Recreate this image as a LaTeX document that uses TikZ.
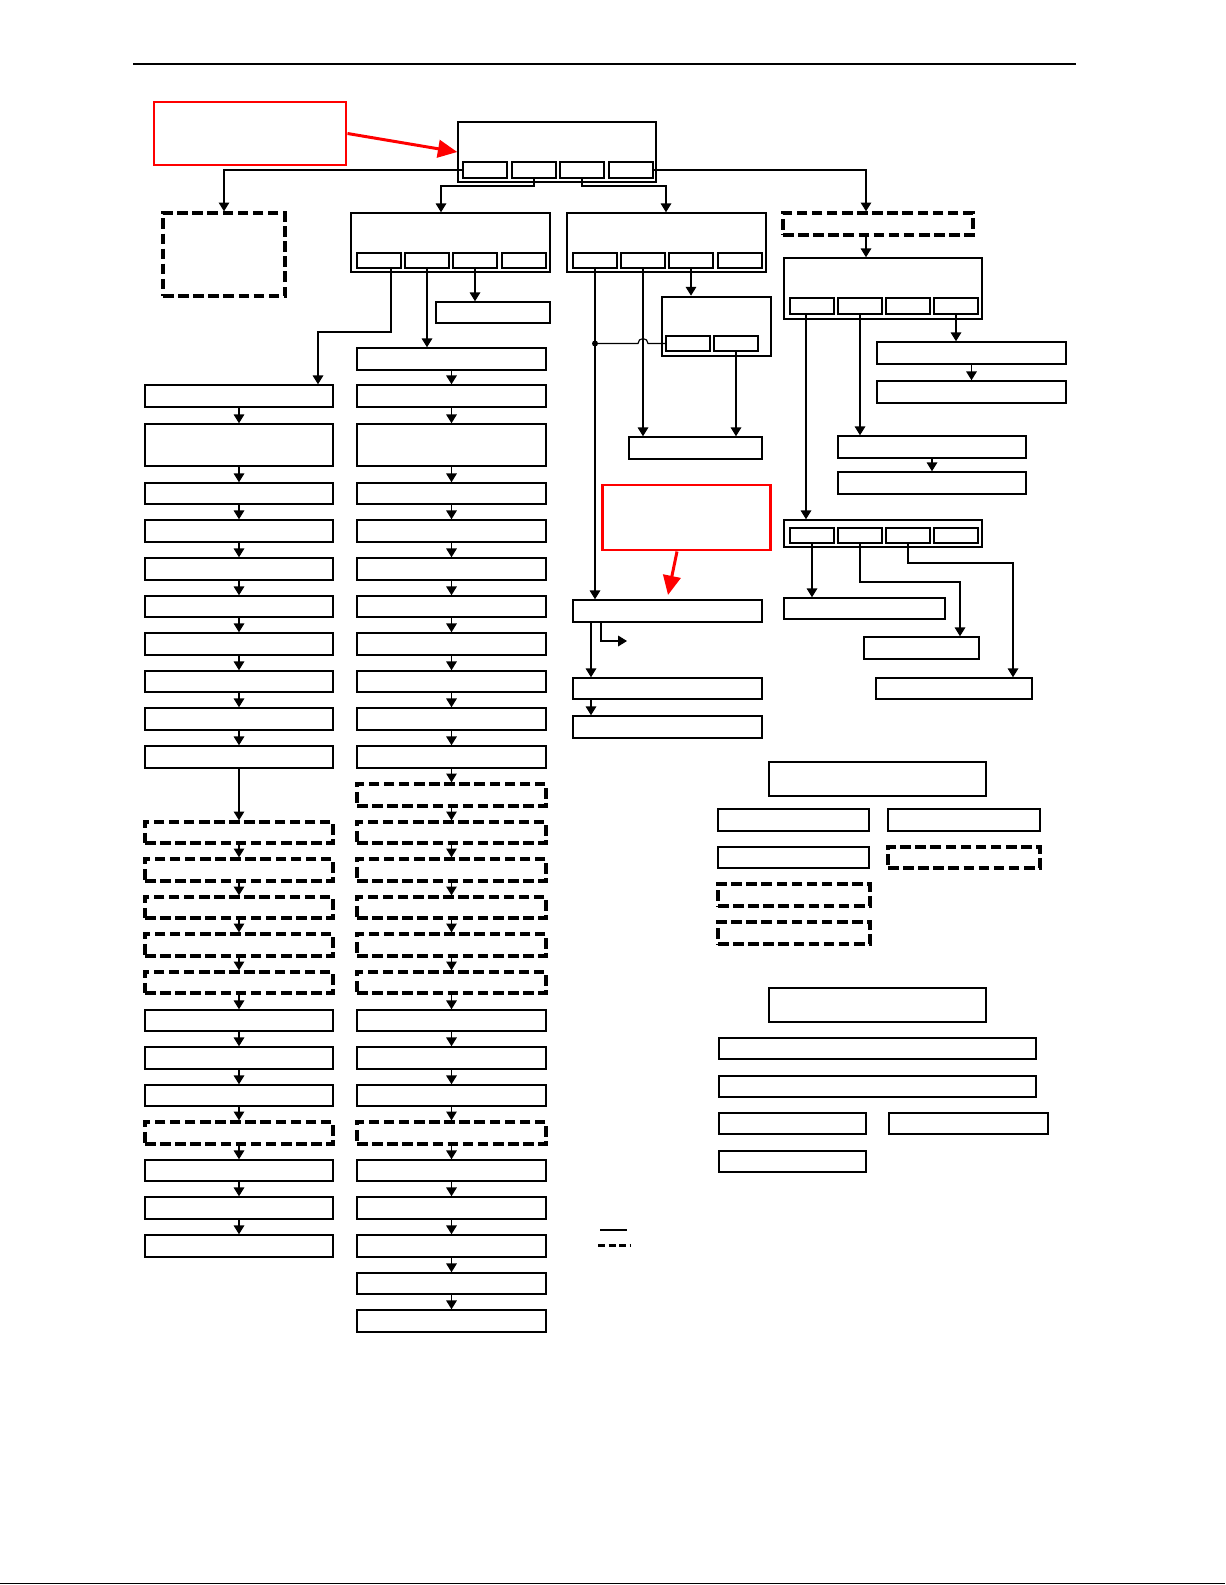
\documentclass[tikz,border=0pt]{standalone}
\usetikzlibrary{arrows.meta,fit,positioning}

\tikzset{
    box/.style={draw, line width=0.85pt, inner sep=0pt},
    dbox/.style={draw, line width=1.9pt, dash pattern=on 6pt off 2.6pt, inner sep=0pt},
    thickbox/.style={draw, line width=1.5pt, inner sep=0pt},
    sub/.style={draw, line width=0.65pt, inner sep=0pt},
    redbox/.style={draw=red, line width=1.7pt, inner sep=0pt},
    redarrow/.style={red, line width=1.7pt, -{Triangle[length=11pt,width=10pt]}}
}

\begin{document}
\begin{tikzpicture}[x=0.02cm,y=-0.02cm,line width=0.65pt,>={Triangle[length=5pt,width=6pt]}]
    \useasboundingbox (0,0) rectangle (1225,1585);
    \draw[line width=1.7pt] (133,64) -- (1076,64);
    \draw[line width=0.6pt] (0,1583.5) -- (1225,1583.5);

    \node[redbox, fit={(154,102) (346,165)}] (noteA) {};
    \node[redbox, fit={(602,485) (770,550)}] (noteB) {};

    \node[box, fit={(458,122) (656,182)}] (top) {};
    \foreach \k/\xa in {1/463,2/512,3/560,4/609}
        \node[sub, fit={(\xa,162) (\xa+44,178)}] (t\k) {};
    \node[dbox, fit={(163,213) (285,296)}] (dl) {};
    \node[box, fit={(351,213) (550,272)}] (a) {};
    \foreach \k/\xa in {1/357,2/405,3/453,4/502}
        \node[sub, fit={(\xa,253) (\xa+44,268)}] (a\k) {};
    \node[box, fit={(567,213) (766,272)}] (b) {};
    \foreach \k/\xa in {1/573,2/621,3/669,4/718}
        \node[sub, fit={(\xa,253) (\xa+44,268)}] (b\k) {};
    \node[dbox, fit={(783,213) (973,235)}] (e) {};
    \node[box, fit={(784,258) (982,319)}] (f) {};
    \foreach \k/\xa in {1/790,2/838,3/886,4/934}
        \node[sub, fit={(\xa,298) (\xa+44,314)}] (f\k) {};

    \node[box, fit={(436,302) (550,323)}] (s0) {};
    \node[thickbox, fit={(662,297) (771,356)}] (c) {};
    \node[sub, fit={(666,336) (710,351)}] (c1) {};
    \node[sub, fit={(714,336) (758,351)}] (c2) {};
    \node[box, fit={(629,437) (762,459)}] (q) {};
    \node[box, fit={(573,600) (762,622)}] (p1) {};
    \node[box, fit={(573,678) (762,699)}] (p2) {};
    \node[box, fit={(573,716) (762,738)}] (p3) {};

    \node[box, fit={(877,342) (1066,364)}] (r1) {};
    \node[box, fit={(877,381) (1066,403)}] (r2) {};
    \node[box, fit={(838,436) (1026,458)}] (s1) {};
    \node[box, fit={(838,472) (1026,494)}] (s2) {};
    \node[box, fit={(784,520) (982,547)}] (g) {};
    \foreach \k/\xa in {1/790,2/838,3/886,4/934}
        \node[sub, fit={(\xa,528) (\xa+44,543)}] (g\k) {};
    \node[box, fit={(784,598) (945,619)}] (h1) {};
    \node[box, fit={(864,637) (979,659)}] (h2) {};
    \node[box, fit={(876,678) (1032,699)}] (h3) {};

    \foreach \i/\ya/\yb/\st in {1/385/407/box,2/424/466/box,3/483/504/box,4/520/542/box,
        5/558/580/box,6/596/617/box,7/633/655/box,8/671/692/box,9/708/730/box,10/746/768/box,
        11/822/843/dbox,12/859/881/dbox,13/897/918/dbox,14/934/956/dbox,15/972/993/dbox,
        16/1010/1031/box,17/1047/1069/box,18/1085/1106/box,19/1122/1144/dbox,
        20/1160/1181/box,21/1197/1219/box,22/1235/1257/box}
        \node[\st, fit={(145,\ya) (333,\yb)}] (l\i) {};
    \foreach \i [count=\j from 2] in {1,...,21}
        \draw[->] (l\i) -- (l\j);

    \foreach \i/\ya/\yb/\st in {1/348/370/box,2/385/407/box,3/424/466/box,4/483/504/box,
        5/520/542/box,6/558/580/box,7/596/617/box,8/633/655/box,9/671/692/box,10/708/730/box,
        11/746/768/box,12/784/806/dbox,13/822/843/dbox,14/859/881/dbox,15/897/918/dbox,
        16/934/956/dbox,17/972/993/dbox,18/1010/1031/box,19/1047/1069/box,20/1085/1106/box,
        21/1122/1144/dbox,22/1160/1181/box,23/1197/1219/box,24/1235/1257/box,
        25/1273/1294/box,26/1310/1332/box}
        \node[\st, fit={(357,\ya) (546,\yb)}] (m\i) {};
    \foreach \i [count=\j from 2] in {1,...,25}
        \draw[->] (m\i) -- (m\j);

    \node[box, fit={(769,762) (986,796)}] (hd1) {};
    \node[box, fit={(718,809) (869,831)}] (u1) {};
    \node[box, fit={(888,809) (1040,831)}] (u2) {};
    \node[box, fit={(718,847) (869,868)}] (u3) {};
    \node[dbox, fit={(888,847) (1040,868)}] (u4) {};
    \node[dbox, fit={(718,884) (870,906)}] (u5) {};
    \node[dbox, fit={(718,922) (870,944)}] (u6) {};

    \node[box, fit={(769,988) (986,1022)}] (hd2) {};
    \node[box, fit={(719,1038) (1036,1059)}] (v1) {};
    \node[box, fit={(719,1076) (1036,1097)}] (v2) {};
    \node[box, fit={(719,1113) (866,1134)}] (v3) {};
    \node[box, fit={(889,1113) (1048,1134)}] (v4) {};
    \node[box, fit={(719,1151) (866,1172)}] (v5) {};

    \draw[line width=0.6pt] (600,1230) -- (627,1230);
    \draw[line width=1.7pt, dash pattern=on 4pt off 2pt] (598,1245) -- (631,1245);

    \draw[redarrow] (noteA.east) -- (top.west);
    \coordinate (rs) at (677,550);
    \coordinate (rt) at (668,595);
    \draw[redarrow] (noteB.south -| rs) -- (rt);

    \draw[->] (t1.west) -| (dl.north);
    \coordinate (xa) at (441,186);
    \draw[->] (t2.south) |- (xa) -- (xa |- a.north);
    \coordinate (xb) at (666,186);
    \draw[->] (t3.south) |- (xb) -- (xb |- b.north);
    \coordinate (xe) at (866,170);
    \draw[->] (t4.east) -| (xe |- e.north);
    \draw[->] (xe |- e.south) -- (xe |- f.north);

    \draw[->] (a3.south) -- (a3.south |- s0.north);
    \draw[->] (a2.south) -- (a2.south |- m1.north);
    \coordinate (k1) at (391,332);
    \coordinate (k2) at (318,332);
    \draw[->] (k1 |- a1.south) -- (k1) -- (k2) -- (k2 |- l1.north);

    \draw[->] (b1.south) -- (b1.south |- p1.north);
    \draw[->] (b2.south) -- (b2.south |- q.north);
    \draw[->] (b3.south) -- (b3.south |- c.north);
    \draw[->] (c2.south) -- (c2.south |- q.north);
    \coordinate (jd) at (b1.south |- c1);
    \coordinate (hp) at (b2.south |- c1);
    \fill (jd) circle (1.7pt);
    \draw (jd) -- ([xshift=-0.1cm]hp) arc[start angle=180,end angle=0,radius=0.1cm] -- (c1.west);

    \coordinate (xp) at (591,0);
    \draw[->] (xp |- p1.south) -- (xp |- p2.north);
    \draw[->] (xp |- p2.south) -- (xp |- p3.north);
    \coordinate (k3) at (601,641);
    \coordinate (pend) at (627,641);
    \draw[->] (k3 |- p1.south) -- (k3) -- (pend);

    \draw[->] (f4.south) -- (f4.south |- r1.north);
    \draw[->] (r1) -- (r2);
    \draw[->] (f2.south) -- (f2.south |- s1.north);
    \draw[->] (s1) -- (s2);
    \coordinate (xg) at (806,0);
    \draw[->] (xg |- f1.south) -- (xg |- g.north);
    \draw[->] (g1.south) -- (g1.south |- h1.north);
    \coordinate (k4) at (960,582);
    \draw[->] (g2.south) |- (k4) -- (k4 |- h2.north);
    \coordinate (k5) at (1013,563);
    \draw[->] (g3.south) |- (k5) -- (k5 |- h3.north);
\end{tikzpicture}
\end{document}
